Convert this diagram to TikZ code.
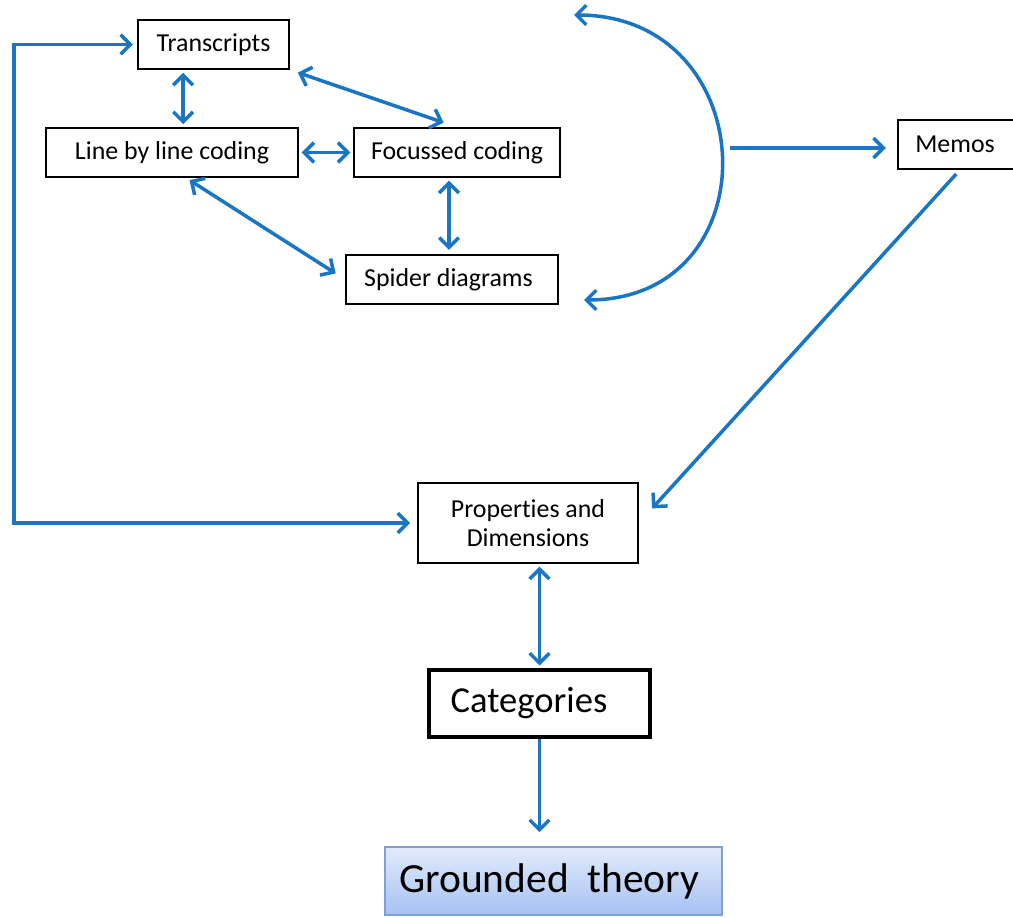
\documentclass[tikz,border=0pt]{standalone}
\usepackage{fontspec}
\setmainfont{Carlito}[Ligatures=NoCommon]
\usetikzlibrary{arrows.meta}
\usetikzlibrary{calc}

\definecolor{lineblue}{HTML}{1A75C4}
\definecolor{gtop}{HTML}{E2EBFB}
\definecolor{gbottom}{HTML}{A6C1F2}
\definecolor{gborder}{HTML}{7FA1D6}

\begin{document}
\begin{tikzpicture}[x=0.025cm,y=-0.025cm,
    box/.style={draw,line width=1.2pt,inner sep=0pt,font=\fontsize{18.4}{20.5}\selectfont},
    link/.style={draw=lineblue,line width=2.5pt},
    oneway/.style={link,-{Straight Barb[length=7pt,width=14pt]}},
    bothway/.style={link,{Straight Barb[length=7pt,width=14pt]}-{Straight Barb[length=7pt,width=14pt]}}]

\useasboundingbox (0,0) rectangle (1013,918);

% boxes
\node[box,minimum width=151*0.025cm,minimum height=49*0.025cm] (transcripts) at (213.5,44.5) {Transcripts};
\node[box,minimum width=252*0.025cm,minimum height=49*0.025cm] (line) at (172,152.5) {Line by line coding};
\node[box,minimum width=206*0.025cm,minimum height=49*0.025cm] (focussed) at (457,152.5) {Focussed coding};
\node[box,minimum width=212*0.025cm,minimum height=49*0.025cm] (spider) at (452,279.5) {Spider diagrams\hspace*{5pt}};
\node[box,minimum width=124*0.025cm,minimum height=49*0.025cm] (memos) at (960,144.5) {Memos\hspace*{7pt}};
\node[box,minimum width=220*0.025cm,minimum height=80*0.025cm,align=center] (properties) at (528,523) {Properties and\\Dimensions};
\node[box,line width=2.4pt,minimum width=221*0.025cm,minimum height=67*0.025cm,font=\fontsize{26}{30}\selectfont] (categories) at (539.5,703.5) {Categories\hspace*{15pt}};
\node[draw=gborder,line width=1pt,top color=gtop,bottom color=gbottom,inner sep=0pt,
      minimum width=337*0.025cm,minimum height=68*0.025cm,font=\fontsize{29.5}{34}\selectfont] (grounded) at (553.5,881) {Grounded\hspace{0.45em}theory\hspace*{6pt}};

% arrows between the coding steps
\draw[bothway] ($(transcripts.south west)+(46,3)$) -- ($(line.north west)+(138,-3)$);
\draw[bothway,shorten <=6pt,shorten >=10pt] (transcripts.south east) -- (focussed.north);
\draw[bothway,shorten <=2pt,shorten >=2pt] (line.east) -- (focussed.west);
\draw[bothway,shorten <=3pt,shorten >=8pt] ($(line.south)+(14,0)$) -- (spider.west);
\draw[bothway,shorten <=2pt,shorten >=3pt] ($(focussed.south)+(-8,0)$) -- ($(spider.north)+(-3,0)$);

% the bow and memos
\coordinate (bowtop) at (574,15);
\coordinate (bowbot) at (584,300);
\coordinate (bowmid) at (730,148);
\draw[bothway] (bowtop) .. controls (764,15) and (774,300) .. (bowbot);
\draw[oneway,shorten >=8pt] (bowmid) -- (bowmid -| memos.west);
\draw[oneway,shorten <=4pt,shorten >=14pt] (memos.south) -- (properties.east);

% loop back to transcripts
\draw[bothway,shorten <=5pt,shorten >=3pt] (properties.west) -- ++(-403,0) |- (transcripts.west);

% down to the theory
\draw[bothway,shorten <=2pt,shorten >=2pt] (categories.north |- properties.south) -- (categories.north);
\draw[oneway,shorten >=10pt] (categories.south) -- (categories.south |- grounded.north);
\end{tikzpicture}
\end{document}
